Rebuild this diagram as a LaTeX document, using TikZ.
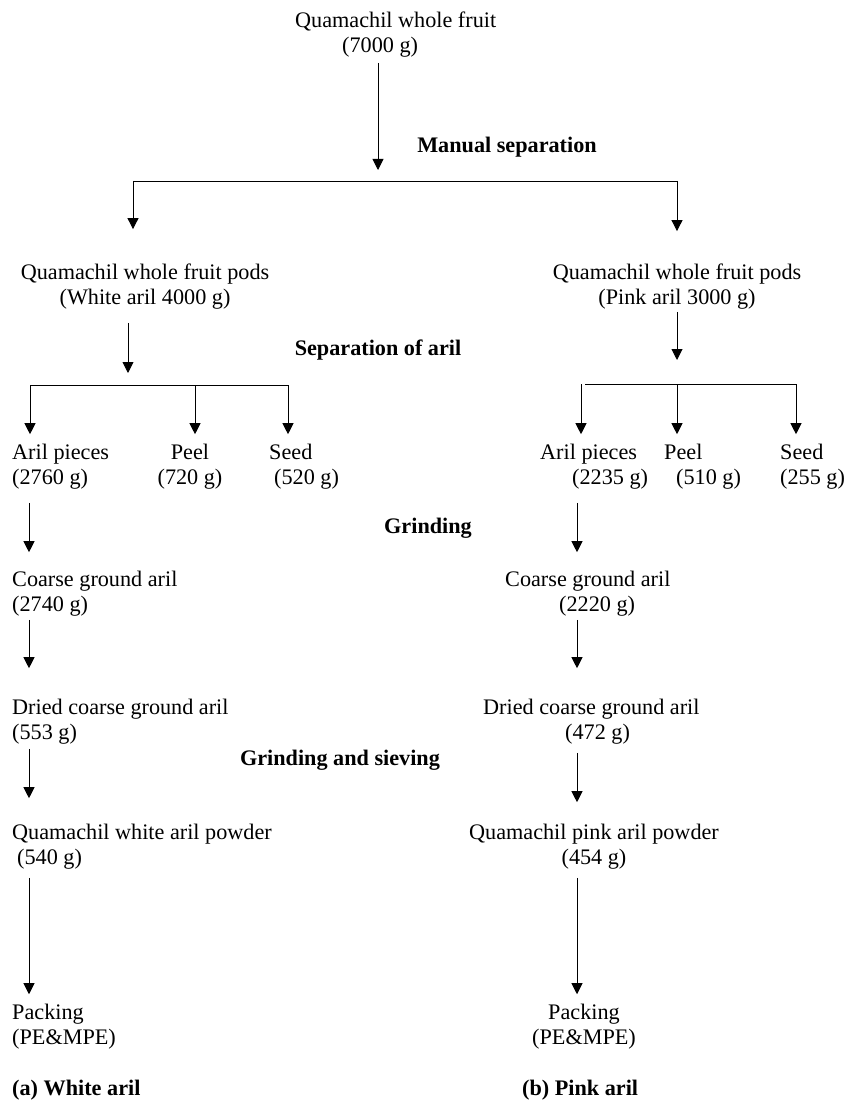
\documentclass[tikz,border=0pt]{standalone}
\usepackage{fontspec}
\setmainfont{Liberation Serif}
\usetikzlibrary{arrows.meta}

\tikzset{
  flow/.style={line width=0.9pt, -{Triangle[length=11pt,width=11pt]}},
  bar/.style={line width=0.7pt},
  stage/.style={font=\fontsize{22.2}{25}\selectfont, inner sep=0pt},
  opname/.style={font=\fontsize{22.2}{25}\selectfont\bfseries, inner sep=0pt},
}

\begin{document}
\begin{tikzpicture}[x=1pt,y=-1pt]
\useasboundingbox (0,0) rectangle (856,1102);

% whole fruit
\node[stage, align=left, anchor=west] (fruit) at (295,35) {Quamachil whole fruit\\\hspace*{47pt}(7000 g)};
\node[opname] (mansep) at (507,147) {Manual separation};

\coordinate (m1) at (378,170);
\coordinate (b1w) at (133,181);
\coordinate (b1p) at (677,181);
\draw[flow, shorten <=5pt] (fruit.south -| m1) -- (m1);
\draw[bar] (b1w) -- (b1p);

% pods
\node[stage, align=center] (podsW) at (145,287) {Quamachil whole fruit pods\\(White aril 4000 g)};
\node[stage, align=center] (podsP) at (677,287) {Quamachil whole fruit pods\\(Pink aril 3000 g)};
\draw[flow, shorten >=35pt] (b1w) -- (b1w |- podsW.north);
\draw[flow, shorten >=33pt] (b1p) -- (b1p |- podsP.north);

\node[opname] (arilsep) at (378,350) {Separation of aril};

\coordinate (m2w) at (128,373);
\coordinate (m2p) at (677,360);
\draw[flow, shorten <=13pt] (podsW.south -| m2w) -- (m2w);
\draw[flow, shorten <=2pt] (podsP.south -| m2p) -- (m2p);

\coordinate (b2w1) at (30,385);
\coordinate (b2w2) at (195,385);
\coordinate (b2w3) at (288,385);
\coordinate (b2p1) at (581,384);
\coordinate (b2p2) at (677,384);
\coordinate (b2p3) at (796,384);
\draw[bar] (b2w1) -- (b2w3);
\draw[bar] ([xshift=4pt]b2p1) -- (b2p3);

% aril, peel, seed
\node[stage, align=left, anchor=west] (arilW) at (12,467) {Aril pieces\\(2760 g)};
\node[stage, align=center] (peelW) at (190,467) {Peel\\(720 g)};
\node[stage, align=left, anchor=west] (seedW) at (269,467) {Seed\\\hspace*{5pt}(520 g)};
\node[stage, align=left, anchor=west] (arilP) at (540,467) {Aril pieces\\\hspace*{32pt}(2235 g)};
\node[stage, align=left, anchor=west] (peelP) at (664,467) {Peel\\\hspace*{12pt}(510 g)};
\node[stage, align=left, anchor=west] (seedP) at (780,467) {Seed\\(255 g)};

\draw[flow, shorten >=10pt] (b2w1) -- (b2w1 |- arilW.north);
\draw[flow, shorten >=10pt] (b2w2) -- (b2w2 |- peelW.north);
\draw[flow, shorten >=10pt] (b2w3) -- (b2w3 |- seedW.north);
\draw[flow, shorten >=10pt] (b2p1) -- (b2p1 |- arilP.north);
\draw[flow, shorten >=10pt] (b2p2) -- (b2p2 |- peelP.north);
\draw[flow, shorten >=10pt] (b2p3) -- (b2p3 |- seedP.north);

\node[opname] (grind) at (428,528) {Grinding};

\coordinate (colW) at (29,0);
\coordinate (colP) at (577,0);

% coarse ground
\node[stage, align=left, anchor=west] (coarseW) at (12,594) {Coarse ground aril\\(2740 g)};
\node[stage, align=left, anchor=west] (coarseP) at (505,594) {Coarse ground aril\\\hspace*{54pt}(2220 g)};
\draw[flow, shorten <=13pt, shorten >=19pt] (arilW.south -| colW) -- (coarseW.north -| colW);
\draw[flow, shorten <=13pt, shorten >=19pt] (arilP.south -| colP) -- (coarseP.north -| colP);

% dried
\node[stage, align=left, anchor=west] (driedW) at (12,722) {Dried coarse ground aril\\(553 g)};
\node[stage, align=left, anchor=west] (driedP) at (483,722) {Dried coarse ground aril\\\hspace*{82pt}(472 g)};
\draw[flow, shorten <=3pt, shorten >=31pt] (coarseW.south -| colW) -- (driedW.north -| colW);
\draw[flow, shorten <=3pt, shorten >=31pt] (coarseP.south -| colP) -- (driedP.north -| colP);

\node[opname] (sieve) at (340,760) {Grinding and sieving};

% powder
\node[stage, align=left, anchor=west] (powderW) at (12,847) {Quamachil white aril powder\\\hspace*{5pt}(540 g)};
\node[stage, align=center] (powderP) at (594,847) {Quamachil pink aril powder\\(454 g)};
\draw[flow, shorten <=4pt, shorten >=26pt] (driedW.south -| colW) -- (powderW.north -| colW);
\draw[flow, shorten <=8pt, shorten >=22pt] (driedP.south -| colP) -- (powderP.north -| colP);

% packing
\node[stage, align=left, anchor=west] (packW) at (12,1027) {Packing\\(PE\&MPE)};
\node[stage, align=center] (packP) at (584,1027) {Packing\\(PE\&MPE)};
\draw[flow, shorten <=8pt, shorten >=10pt] (powderW.south -| colW) -- (packW.north -| colW);
\draw[flow, shorten <=8pt, shorten >=10pt] (powderP.south -| colP) -- (packP.north -| colP);

\node[opname, anchor=west] (capW) at (12,1090) {(a) White aril};
\node[opname, anchor=west] (capP) at (522,1090) {(b) Pink aril};

\end{tikzpicture}
\end{document}
